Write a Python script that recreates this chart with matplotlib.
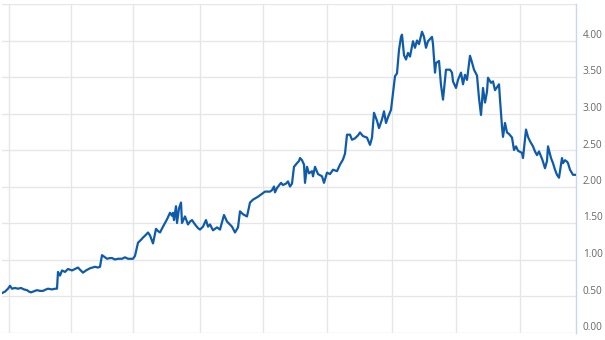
"""Price history line chart with right-hand value axis."""

import matplotlib

matplotlib.use("Agg")
import matplotlib.pyplot as plt
from matplotlib.transforms import ScaledTranslation

# time position (arbitrary units along the x axis) and value
t = [2, 5, 8, 10, 12, 15, 18, 21, 24, 27, 29, 31, 33, 37, 40, 43, 46, 48, 52, 55,
     57, 58, 60, 62, 65, 68, 70, 72, 75, 78, 80, 83, 86, 90, 95, 98, 100, 102, 105, 107,
     110, 112, 115, 118, 122, 125, 128, 130, 133, 135, 138, 141, 143, 146, 148, 150, 153, 156, 158, 160,
     163, 167, 170, 172, 173, 174, 176, 177, 179, 181, 182, 185, 188, 190, 192, 195, 198, 200, 203, 206,
     208, 210, 213, 217, 220, 224, 227, 232, 235, 238, 240, 243, 247, 250, 253, 258, 262, 265, 268, 270,
     272, 274, 275, 277, 281, 283, 286, 288, 290, 292, 294, 297, 299, 300, 302, 304, 305, 307, 309, 312,
     313, 315, 318, 322, 324, 327, 330, 333, 337, 340, 343, 345, 347, 350, 352, 355, 358, 360, 363, 367,
     370, 372, 374, 377, 379, 382, 384, 386, 388, 391, 393, 395, 397, 399, 401, 402, 404, 406, 408, 410,
     413, 415, 417, 419, 422, 424, 426, 428, 432, 433, 435, 436, 439, 441, 443, 446, 450, 452, 453, 456,
     458, 461, 463, 465, 467, 470, 472, 474, 477, 479, 481, 483, 485, 487, 488, 491, 493, 495, 497, 499,
     500, 502, 503, 505, 507, 509, 512, 514, 516, 518, 522, 523, 526, 528, 530, 533, 535, 537, 539, 542,
     543, 545, 547, 548, 551, 553, 555, 557, 559, 562, 563, 565, 567, 568, 570, 573, 576]
price = [0.54, 0.56, 0.60, 0.64, 0.60, 0.61, 0.60, 0.61, 0.59, 0.58, 0.56, 0.55, 0.56, 0.58, 0.57, 0.57, 0.59, 0.60, 0.59, 0.60,
         0.60, 0.83, 0.78, 0.85, 0.83, 0.87, 0.86, 0.85, 0.87, 0.89, 0.86, 0.82, 0.85, 0.88, 0.90, 0.89, 0.90, 1.06, 1.03, 1.01,
         1.02, 1.02, 1.00, 1.01, 1.01, 1.03, 1.01, 1.01, 1.01, 1.05, 1.23, 1.27, 1.30, 1.34, 1.37, 1.33, 1.22, 1.42, 1.39, 1.37,
         1.45, 1.55, 1.64, 1.60, 1.64, 1.54, 1.73, 1.50, 1.70, 1.78, 1.50, 1.59, 1.48, 1.52, 1.54, 1.48, 1.43, 1.41, 1.45, 1.54,
         1.45, 1.48, 1.40, 1.44, 1.41, 1.61, 1.52, 1.45, 1.37, 1.44, 1.66, 1.62, 1.59, 1.78, 1.82, 1.86, 1.90, 1.93, 1.93, 1.93,
         1.95, 2.00, 1.92, 1.98, 2.05, 2.02, 2.04, 2.07, 2.00, 2.04, 2.27, 2.32, 2.35, 2.39, 2.36, 2.30, 2.05, 2.27, 2.18, 2.21,
         2.14, 2.27, 2.17, 2.14, 2.05, 2.19, 2.17, 2.23, 2.21, 2.30, 2.37, 2.45, 2.71, 2.71, 2.64, 2.66, 2.70, 2.74, 2.69, 2.67,
         2.57, 2.67, 3.01, 2.90, 2.80, 2.92, 3.03, 2.87, 2.95, 3.05, 3.28, 3.51, 3.55, 3.87, 4.05, 4.08, 3.80, 3.74, 3.83, 3.78,
         3.99, 3.90, 4.00, 3.95, 4.12, 4.05, 3.90, 3.99, 4.05, 3.95, 3.56, 3.69, 3.72, 3.39, 3.19, 3.60, 3.60, 3.56, 3.44, 3.35,
         3.46, 3.56, 3.40, 3.53, 3.46, 3.79, 3.70, 3.60, 3.52, 3.21, 2.98, 3.35, 3.15, 3.30, 3.49, 3.42, 3.44, 3.32, 3.36, 3.40,
         3.19, 2.82, 2.68, 2.87, 2.74, 2.72, 2.67, 2.50, 2.55, 2.49, 2.46, 2.39, 2.78, 2.68, 2.62, 2.55, 2.48, 2.43, 2.48, 2.38,
         2.34, 2.25, 2.35, 2.55, 2.39, 2.32, 2.23, 2.16, 2.12, 2.39, 2.32, 2.36, 2.34, 2.32, 2.23, 2.16, 2.16]

# vertical grid positions (period boundaries) and value ticks
x_grid = [9, 71, 133, 200, 263, 327, 392, 456, 520]
y_ticks = [0.0, 0.5, 1.0, 1.5, 2.0, 2.5, 3.0, 3.5, 4.0, 4.5]

LINE = "#0f5bab"
GRID = "#e6e6e6"

fig = plt.figure(figsize=(6.05, 3.4), dpi=100)
ax = fig.add_axes([2 / 605, 7.5 / 340, 574 / 605, 328.5 / 340])

ax.plot(t, price, color=LINE, lw=1.6, solid_joinstyle="round", zorder=3)

ax.set_xlim(2, 576)
ax.set_ylim(0, 4.5)
ax.set_xticks(x_grid)
ax.set_yticks(y_ticks)
ax.grid(True, color=GRID, lw=1)
ax.set_axisbelow(True)

ax.yaxis.tick_right()
ax.set_yticklabels([f"{v:.2f}" if v < 4.5 else "" for v in y_ticks])
ax.tick_params(axis="x", length=0, labelbottom=False)
ax.tick_params(axis="y", length=0, pad=5, labelsize=7.2, labelcolor="#666666")
for lab in ax.get_yticklabels():
    lab.set_fontfamily(["Open Sans", "DejaVu Sans"])
    lab.set_verticalalignment("center")
    lab.set_transform(lab.get_transform() + ScaledTranslation(0, 5 / 100, fig.dpi_scale_trans))

for side in ["top", "left", "bottom"]:
    ax.spines[side].set_visible(False)
ax.spines["right"].set_color("#ccd6eb")
ax.spines["right"].set_linewidth(1)

fig.savefig("out.png", dpi=100)
